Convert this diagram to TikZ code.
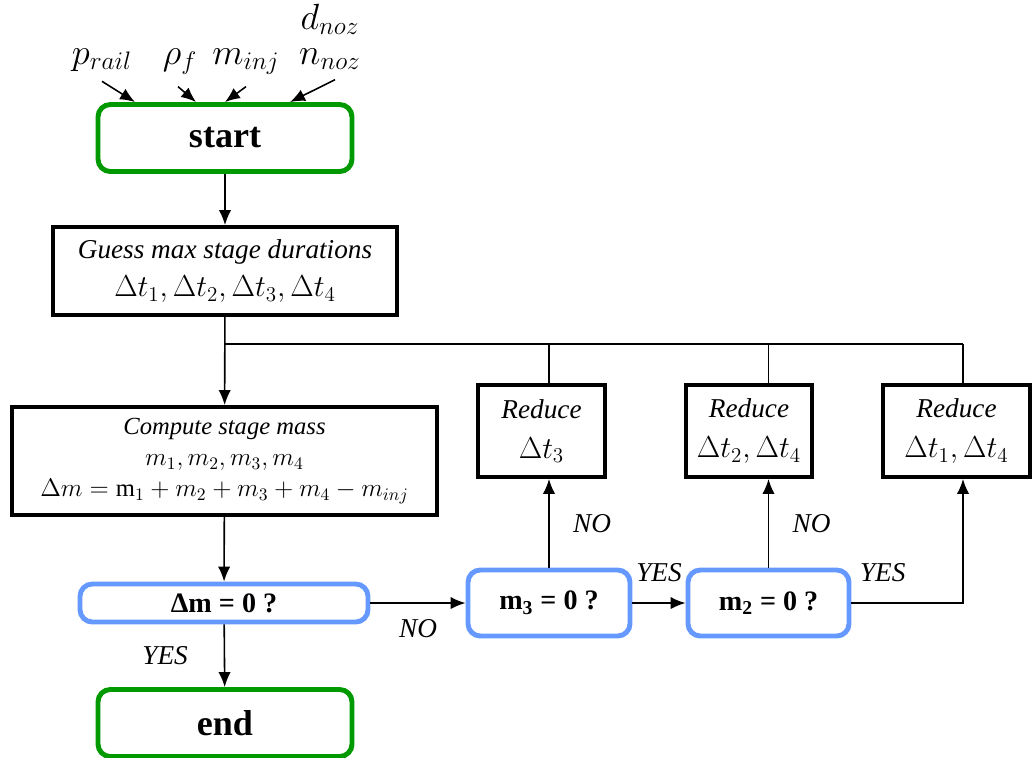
\documentclass[tikz,border=0pt]{standalone}
\usepackage{fontspec}
\setmainfont{Liberation Serif}
\usepackage{tikz}
\usetikzlibrary{positioning,arrows.meta}
\definecolor{startgreen}{RGB}{0,153,0}
\definecolor{checkblue}{RGB}{102,153,255}

\begin{document}
\begin{tikzpicture}[
    terminal/.style={draw=startgreen, line width=2.8pt, fill=white, rounded corners=7pt, minimum width=5.08cm, minimum height=1.34cm, font=\fontsize{20.5}{24}\selectfont\bfseries},
    process/.style={draw=black, line width=2.2pt, fill=white, align=center, inner sep=2pt},
    check/.style={draw=checkblue, line width=2.8pt, fill=white, rounded corners=7pt, minimum height=1.32cm, font=\fontsize{16}{19}\selectfont\bfseries},
    input/.style={font=\fontsize{20}{22}\selectfont, inner sep=0.5pt, anchor=base},
    answer/.style={font=\fontsize{15.5}{18}\selectfont\itshape},
    arrow/.style={-{Latex[length=8.5pt,width=7pt]}, line width=0.9pt},
    wire/.style={line width=0.9pt}
]
    \useasboundingbox (0,0) rectangle (20.68,-15.14);

    % Inputs
    \node [input] (prail) at (2.04,-1.28) {$p_{rail}$};
    \node [input] (rhof) at (3.6,-1.28) {$\rho_f$};
    \node [input] (minj) at (4.92,-1.28) {$m_{inj}$};
    \node [input] (nnoz) at (6.6,-1.28) {$n_{noz}$};
    \node [input] (dnoz) at (6.6,-0.58) {$d_{noz}$};

    % Main column
    \node [terminal] (start) at (4.5,-2.76) {start};
    \node [process, minimum width=6.88cm, minimum height=1.76cm, font=\fontsize{15.5}{21.6}\selectfont] (guess) at (4.5,-5.42)
        {\textit{Guess max stage durations}\\ {\fontsize{18.5}{21.6}\selectfont$\Delta t_1,\Delta t_2,\Delta t_3,\Delta t_4$}};
    \node [process, minimum width=8.5cm, minimum height=2.16cm, font=\fontsize{14}{17.6}\selectfont] (compute) at (4.49,-9.22)
        {\textit{Compute stage mass}\\ $m_1,m_2,m_3,m_4$\\ $\Delta m=\mathrm{m}_1+m_2+m_3+m_4-m_{inj}$};
    \node [check, minimum width=5.76cm, minimum height=0.76cm] (dm) at (4.48,-12.06) {Δm = 0 ?};
    \node [terminal] (end) at (4.5,-14.46) {end};

    % Checks and reductions
    \node [check, minimum width=3.24cm] (m3) at (10.98,-12.06) {m\textsubscript{3} = 0 ?};
    \node [check, minimum width=3.22cm] (m2) at (15.37,-12.06) {m\textsubscript{2} = 0 ?};
    \node [process, minimum width=2.54cm, minimum height=1.84cm, font=\fontsize{15.5}{22.8}\selectfont] (red3) at (10.83,-8.62)
        {\textit{Reduce}\\ {\fontsize{18}{22.8}\selectfont$\Delta t_3$}};
    \node [process, minimum width=2.52cm, minimum height=1.84cm, font=\fontsize{15.5}{22.8}\selectfont] (red24) at (14.98,-8.62)
        {\textit{Reduce}\\ {\fontsize{18}{22.8}\selectfont$\Delta t_2,\Delta t_4$}};
    \node [process, minimum width=2.94cm, minimum height=1.84cm, font=\fontsize{15.5}{22.8}\selectfont] (red14) at (19.13,-8.62)
        {\textit{Reduce}\\ {\fontsize{18}{22.8}\selectfont$\Delta t_1,\Delta t_4$}};

    \coordinate (split) at (4.5,-6.88);
    \coordinate (loop) at (19.26,-6.88);

    % Paths
    \draw [arrow] ([yshift=-1.8mm]prail.south) -- ([xshift=-1.8cm]start.north);
    \draw [arrow] ([xshift=-0.4mm,yshift=-2.2mm]rhof.south) -- ([xshift=-0.58cm]start.north);
    \draw [arrow] ([yshift=-2.2mm]minj.south) -- (start.north);
    \draw [arrow] ([xshift=1mm,yshift=-1.8mm]nnoz.south) -- ([xshift=1.3cm]start.north);

    \draw [arrow] (start) -- (guess);
    \draw [arrow] (guess) -- (compute);
    \draw [wire] (split) -- (loop);
    \draw [wire] (m3.north |- red3.north) -- (m3.north |- split);
    \draw [wire] (m2.north |- red24.north) -- (m2.north |- split);
    \draw [wire] (loop |- red14.north) -- (loop);

    \draw [arrow] (compute) -- (dm);
    \draw [arrow] (dm) -- node[answer, left=6mm] {YES} (end);
    \draw [arrow] (dm) -- node[answer, below=2mm] {NO} (m3);
    \draw [arrow] (m3) -- node[answer, right=3.5mm] {NO} (m3.north |- red3.south);
    \draw [arrow] (m3) -- node[answer, above=3mm] {YES} (m2);
    \draw [arrow] (m2) -- node[answer, right=3.5mm] {NO} (m2.north |- red24.south);
    \draw [arrow] (m2) -| node[answer, pos=0.14, above=3mm] {YES} (loop |- red14.south);
\end{tikzpicture}
\end{document}
